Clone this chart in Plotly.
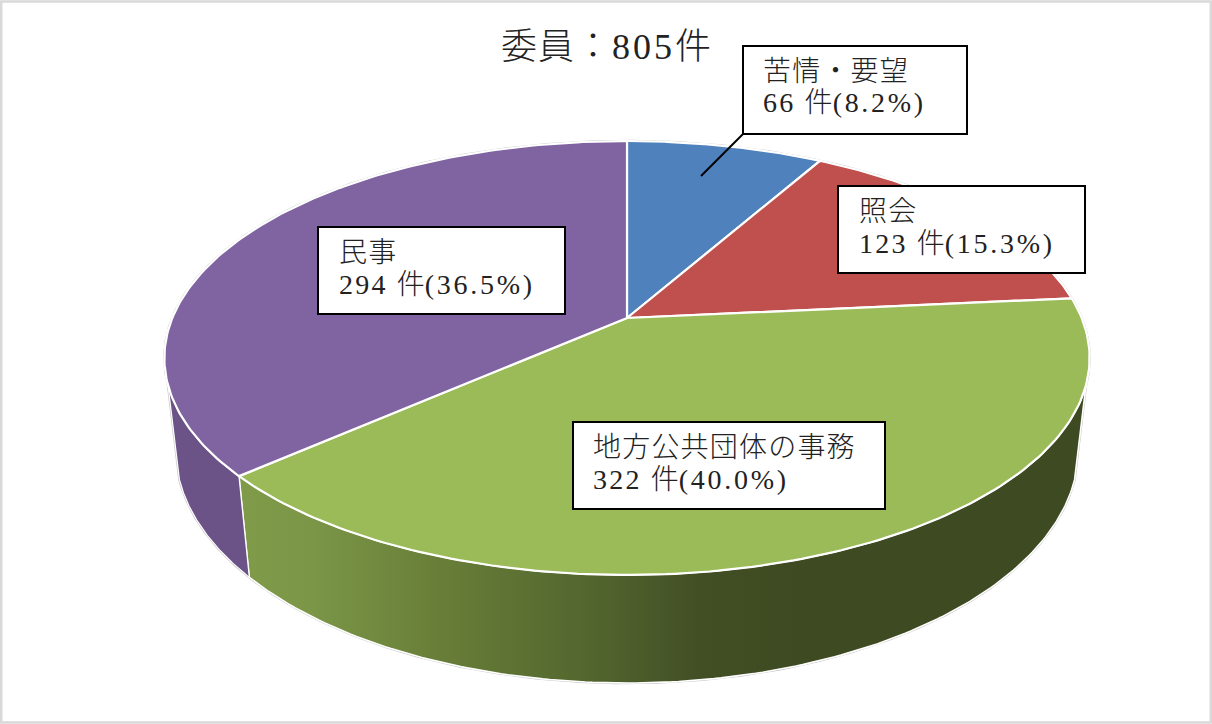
import numpy as np
import plotly.graph_objects as go

# ---------- data ----------
categories = ["苦情・要望", "照会", "地方公共団体の事務", "民事"]
counts = [66, 123, 322, 294]
title_head = "委員："
title_total = "805"
title_unit = "件"

# ---------- styling ----------
top_colors = ["#4f81bd", "#c0504d", "#9bbb59", "#8064a2"]
FONT = "Liberation Serif, Noto Sans CJK JP, serif"
W, H = 1212, 724

# perspective model of the tilted pie (pixel space of the axes)
CX = 627.0
TOP = dict(cy=318.0, a=454.7, b=209.6, k=0.1843)
BOT = dict(cy=407.4, a=444.0, b=226.0, k=0.18)
SIL_L, SIL_R = 252.4, 107.6  # silhouette angles


def project(theta_deg, d):
    t = np.radians(theta_deg)
    u, v = np.sin(t), np.cos(t)
    w = 1 + d["k"] * v
    return CX + d["a"] * u / w, d["cy"] - d["b"] * v / w


def arc(a0, a1, d, n=160):
    return project(np.linspace(a0, a1, n), d)


total = sum(counts)
edges = np.concatenate([[0], np.cumsum(counts)]) / total * 360.0

fig = go.Figure()

# outline of the whole solid
xa, ya = arc(SIL_L, 360 + SIL_R, TOP, 300)
xb, yb = arc(SIL_R, SIL_L, BOT, 300)
fig.add_trace(go.Scatter(x=np.r_[xa, xb, xa[0]], y=np.r_[ya, yb, ya[0]], mode="lines",
                         line=dict(color="#c4c4c4", width=2.4), hoverinfo="skip"))

# side walls: green (front) then purple (left)
green_scale = [[0, "#7f9b49"], [0.12, "#7b9647"], [0.35, "#687e38"], [0.6, "#54682f"],
               [0.82, "#424f25"], [1, "#3e4a21"]]
a0, a1 = edges[2], edges[3]
x1, y1 = arc(SIL_R, a1, TOP)
x2, y2 = arc(a1, SIL_R, BOT)
fig.add_trace(go.Scatter(x=np.r_[x1, x2, x1[0]], y=np.r_[y1, y2, y1[0]], mode="lines", fill="toself",
                         line=dict(color="#ffffff", width=1.6), hoverinfo="skip",
                         fillgradient=dict(type="horizontal", colorscale=green_scale, start=245, stop=800)))
x1, y1 = arc(a1, SIL_L, TOP)
x2, y2 = arc(SIL_L, a1, BOT)
fig.add_trace(go.Scatter(x=np.r_[x1, x2, x1[0]], y=np.r_[y1, y2, y1[0]], mode="lines", fill="toself",
                         fillcolor="#6b5287", line=dict(color="#ffffff", width=1.2), hoverinfo="skip"))

# top faces
for i, c in enumerate(top_colors):
    ax, ay = arc(edges[i], edges[i + 1], TOP)
    fig.add_trace(go.Scatter(x=np.r_[CX, ax, CX], y=np.r_[TOP["cy"], ay, TOP["cy"]], mode="lines",
                             fill="toself", fillcolor=c, line=dict(color="#ffffff", width=2.2),
                             hoverinfo="skip"))

# label boxes: x0, y0, x1, y1, text left, line-1 centre, line-2 centre
boxes = [
    (743, 46, 967, 134, 761, 71, 102),
    (838, 186, 1085, 273, 857, 211, 243),
    (573, 422, 885, 509, 591, 447, 479),
    (318, 227, 565, 314, 337, 252, 284),
]
shapes = [dict(type="rect", xref="paper", yref="paper", x0=0.001, x1=0.999, y0=0.002, y1=0.998,
               line=dict(color="#d9d9d9", width=2.5)),
          dict(type="line", xref="x", yref="y", x0=743, y0=134, x1=701, y1=176,
               line=dict(color="#000000", width=2))]
title_text = (f'<span style="letter-spacing:1px">{title_head}</span>'
              f'<span style="letter-spacing:3px">{title_total}</span>{title_unit}')
annotations = [dict(x=499, y=47, xref="x", yref="y", text=title_text, showarrow=False, xanchor="left",
                    yanchor="middle", font=dict(family=FONT, size=36, color="#222222", weight=300))]
for name, n, b in zip(categories, counts, boxes):
    shapes.append(dict(type="rect", xref="x", yref="y", x0=b[0], y0=b[1], x1=b[2], y1=b[3],
                       fillcolor="#ffffff", line=dict(color="#000000", width=2), layer="above"))
    pct = f"{n / total * 100:.1f}"
    line2 = f'<span style="letter-spacing:2.2px">{n} </span>件<span style="letter-spacing:2.7px">({pct}%)</span>'
    spaced_name = f'<span style="letter-spacing:1.2px">{name}</span>'
    for txt, yc in ((spaced_name, b[5]), (line2, b[6])):
        annotations.append(dict(x=b[4], y=yc, xref="x", yref="y", text=txt, showarrow=False,
                                xanchor="left", yanchor="middle",
                                font=dict(family=FONT, size=28, color="#222222", weight=300)))

fig.update_layout(
    width=W, height=H, margin=dict(l=0, r=0, t=0, b=0), paper_bgcolor="#ffffff", plot_bgcolor="#ffffff",
    showlegend=False, shapes=shapes, annotations=annotations,
    xaxis=dict(range=[0, W], visible=False, fixedrange=True),
    yaxis=dict(range=[H, 0], visible=False, fixedrange=True),
)
fig.write_html("out.html", config=dict(displayModeBar=False),
               post_script="document.body.style.margin='0';document.body.style.overflow='hidden';")
